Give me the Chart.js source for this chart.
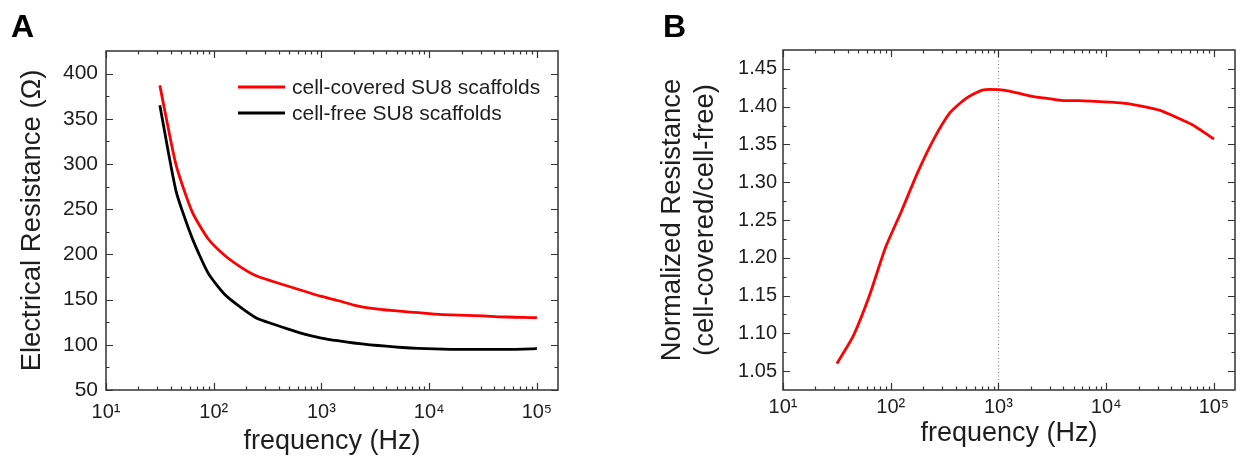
<!DOCTYPE html>
<html>
<head>
<meta charset="utf-8">
<script src="https://cdn.jsdelivr.net/npm/chart.js@4.4.1/dist/chart.umd.min.js"></script>
<style>
  body { margin: 0; background: #fff; width: 1248px; height: 463px; overflow: hidden; position: relative; }
  .wrap { position: absolute; top: 0; width: 624px; height: 463px; }
  #wa { left: 0; }
  #wb { left: 624px; }
  .tag { position: absolute; font: bold 32px "Liberation Sans", Arial, sans-serif; color: #000; }
</style>
</head>
<body>
<div class="wrap" id="wa"><canvas id="chartA" width="624" height="463"></canvas></div>
<div class="wrap" id="wb"><canvas id="chartB" width="624" height="463"></canvas></div>
<div class="tag" style="left:11px;top:8px">A</div>
<div class="tag" style="left:663px;top:8px">B</div>
<script>
// frequency points (Hz)
var freq = [31.6, 44.7, 63.1, 89.1, 126, 178, 251, 355, 501, 708, 1000, 1413, 1995,
            2818, 3981, 5623, 7943, 11220, 15849, 22387, 31623, 44668, 63096, 89125, 100000];

// panel A: electrical resistance (ohm)
var covered = [387, 299, 247, 217, 199, 186, 176, 170, 164.5, 159, 153.5, 149, 144,
               140.5, 138.5, 137, 135.5, 134, 133, 132.5, 132, 131, 130.5, 130, 130];
var free = [365, 270, 218, 179, 156, 141.5, 129.5, 123, 117, 111.5, 107.5, 104.5, 102,
            100, 98.5, 97, 96, 95.5, 95, 95, 95, 95, 95, 95.5, 96];

// panel B: normalized resistance (cell-covered / cell-free)
var normalized = [1.060, 1.096, 1.149, 1.213, 1.262, 1.313, 1.357, 1.392, 1.411, 1.422, 1.4225, 1.419, 1.414,
                  1.411, 1.408, 1.408, 1.407, 1.406, 1.404, 1.400, 1.395, 1.386, 1.376, 1.362, 1.357];

var xTicks = [10, 100, 1000, 10000, 100000];
var yTicksA = [50, 100, 150, 200, 250, 300, 350, 400];
var yTicksB = [1.05, 1.10, 1.15, 1.20, 1.25, 1.30, 1.35, 1.40, 1.45];
var markFreq = 1000;

var sup = ['\u2070', '\u00b9', '\u00b2', '\u00b3', '\u2074', '\u2075'];
var FONT = '"Liberation Sans", Arial, sans-serif';
var TEXT = '#1e1e1e';

function pts(ys) {
  return freq.map(function (f, i) { return { x: f, y: ys[i] }; });
}

// box round the plot with inward ticks on all four sides
function framePlugin(yMajor) {
  return {
    id: 'frame',
    afterDraw: function (chart) {
      var ctx = chart.ctx, a = chart.chartArea;
      var xs = chart.scales.x, ys = chart.scales.y;
      ctx.save();
      ctx.strokeStyle = '#333';
      ctx.lineWidth = 1.5;
      ctx.strokeRect(a.left, a.top, a.right - a.left, a.bottom - a.top);
      ctx.lineWidth = 1.2;
      ctx.beginPath();
      for (var e = 1; e <= 5; e++) {
        for (var m = 1; m <= 9; m++) {
          var v = m * Math.pow(10, e);
          if (v > xs.max) break;
          var px = Math.round(xs.getPixelForValue(v)) + 0.5;
          var len = m === 1 ? 7 : 3.5;
          ctx.moveTo(px, a.bottom); ctx.lineTo(px, a.bottom - len);
          ctx.moveTo(px, a.top); ctx.lineTo(px, a.top + len);
        }
      }
      var half = (yMajor[1] - yMajor[0]) / 2;
      yMajor.forEach(function (v, i) {
        var py = Math.round(ys.getPixelForValue(v)) + 0.5;
        ctx.moveTo(a.left, py); ctx.lineTo(a.left + 7, py);
        ctx.moveTo(a.right, py); ctx.lineTo(a.right - 7, py);
        if (i < yMajor.length - 1) {
          var pm = Math.round(ys.getPixelForValue(v + half)) + 0.5;
          ctx.moveTo(a.left, pm); ctx.lineTo(a.left + 3.5, pm);
          ctx.moveTo(a.right, pm); ctx.lineTo(a.right - 3.5, pm);
        }
      });
      ctx.stroke();
      ctx.restore();
    }
  };
}

var legendPlugin = {
  id: 'boxLegend',
  afterDraw: function (chart) {
    var ctx = chart.ctx, a = chart.chartArea;
    ctx.save();
    ctx.font = '21px ' + FONT;
    ctx.textBaseline = 'middle';
    chart.data.datasets.forEach(function (ds, i) {
      var y = a.top + 36 + i * 26;
      ctx.strokeStyle = ds.borderColor;
      ctx.lineWidth = 3;
      ctx.beginPath();
      ctx.moveTo(a.left + 132, y);
      ctx.lineTo(a.left + 179, y);
      ctx.stroke();
      ctx.fillStyle = TEXT;
      ctx.fillText(ds.label, a.left + 186, y + 1);
    });
    ctx.restore();
  }
};

var markPlugin = {
  id: 'mark',
  beforeDatasetsDraw: function (chart) {
    var ctx = chart.ctx, a = chart.chartArea;
    var px = Math.round(chart.scales.x.getPixelForValue(markFreq)) + 0.5;
    ctx.save();
    ctx.strokeStyle = '#888';
    ctx.lineWidth = 1.2;
    ctx.setLineDash([1, 2.5]);
    ctx.beginPath();
    ctx.moveTo(px, a.top);
    ctx.lineTo(px, a.bottom);
    ctx.stroke();
    ctx.restore();
  }
};

function xScale(titlePad, tickPad) {
  return {
    type: 'logarithmic',
    min: 10,
    max: 157000,
    grid: { display: false, drawTicks: false },
    border: { display: false },
    afterBuildTicks: function (s) { s.ticks = xTicks.map(function (v) { return { value: v }; }); },
    afterFit: function (s) { s.height = 73; },
    ticks: {
      autoSkip: false, maxRotation: 0, padding: tickPad,
      color: TEXT, font: { family: FONT, size: 20 },
      callback: function (v) { return '10' + sup[Math.round(Math.log10(v))]; }
    },
    title: {
      display: true, text: 'frequency (Hz)', color: TEXT,
      font: { family: FONT, size: 27 }, padding: { top: 0, bottom: titlePad }
    }
  };
}

new Chart(document.getElementById('chartA'), {
  type: 'line',
  data: {
    datasets: [
      { label: 'cell-covered SU8 scaffolds', data: pts(covered), borderColor: '#ff0000', borderWidth: 2.8, pointRadius: 0, tension: 0.2 },
      { label: 'cell-free SU8 scaffolds', data: pts(free), borderColor: '#000000', borderWidth: 2.8, pointRadius: 0, tension: 0.2 }
    ]
  },
  options: {
    responsive: false,
    animation: false,
    events: [],
    layout: { padding: { top: 51, right: 66, left: 0, bottom: 0 } },
    plugins: { legend: { display: false }, tooltip: { enabled: false } },
    scales: {
      x: xScale(5, 10),
      y: {
        min: 50, max: 425,
        grid: { display: false, drawTicks: false },
        border: { display: false },
        afterBuildTicks: function (s) { s.ticks = yTicksA.map(function (v) { return { value: v }; }); },
        afterFit: function (s) { s.width = 106; },
        ticks: { padding: 8, color: TEXT, font: { family: FONT, size: 21 } },
        title: {
          display: true, text: 'Electrical Resistance (\u03a9)', color: TEXT,
          font: { family: FONT, size: 27.5 }, padding: { top: 16, bottom: 0 }
        }
      }
    }
  },
  plugins: [framePlugin(yTicksA), legendPlugin]
});

new Chart(document.getElementById('chartB'), {
  type: 'line',
  data: {
    datasets: [
      { label: 'normalized', data: pts(normalized), borderColor: '#ff0000', borderWidth: 2.8, pointRadius: 0, tension: 0.2 }
    ]
  },
  options: {
    responsive: false,
    animation: false,
    events: [],
    layout: { padding: { top: 50, right: 13, left: 0, bottom: 0 } },
    plugins: { legend: { display: false }, tooltip: { enabled: false } },
    scales: {
      x: xScale(13, 5),
      y: {
        min: 1.025, max: 1.475,
        grid: { display: false, drawTicks: false },
        border: { display: false },
        afterBuildTicks: function (s) { s.ticks = yTicksB.map(function (v) { return { value: v }; }); },
        afterFit: function (s) { s.width = 159; },
        ticks: {
          padding: 6, color: TEXT, font: { family: FONT, size: 20 },
          callback: function (v) { return v.toFixed(2); }
        },
        title: {
          display: true, text: ['Normalized Resistance', '(cell-covered/cell-free)'], color: TEXT,
          font: { family: FONT, size: 27.5, lineHeight: 1.2 }, padding: { top: 32, bottom: 0 }
        }
      }
    }
  },
  plugins: [framePlugin(yTicksB), markPlugin]
});
</script>
</body>
</html>
